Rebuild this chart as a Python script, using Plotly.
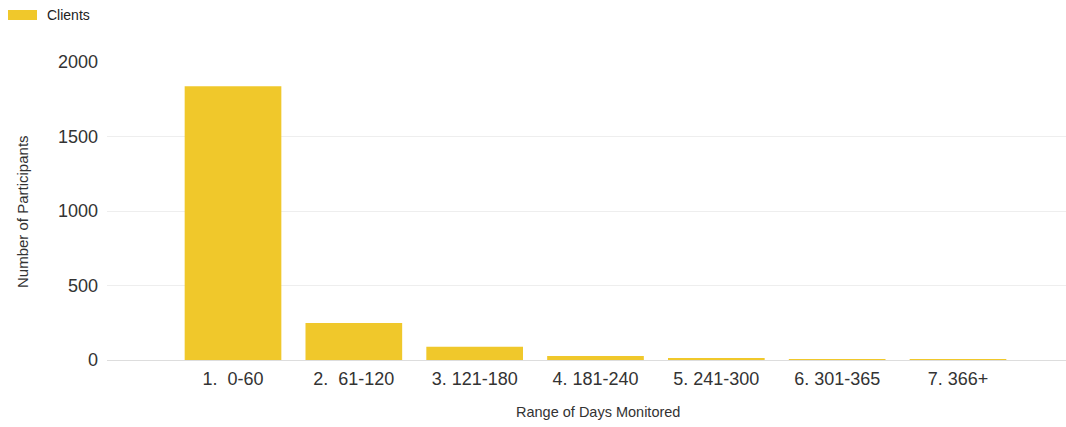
import plotly.graph_objects as go

categories = ["1.  0-60", "2.  61-120", "3. 121-180", "4. 181-240", "5. 241-300", "6. 301-365", "7. 366+"]
clients = [1838, 248, 89, 27, 13, 3, 1]
y_ticks = [0, 500, 1000, 1500, 2000]
series_name = "Clients"
x_title = "Range of Days Monitored"
y_title = "Number of Participants"

BAR = "#F0C82B"
W, H = 1066, 427
L, R, T, B = 107, 0, 62, 67
pw, ph = W - L - R, H - T - B

def px_x(p):
    return (p - L) / pw

def px_y(p):
    return (H - B - p) / ph

fig = go.Figure()
fig.add_trace(go.Bar(x=categories, y=clients, name=series_name, marker=dict(color=BAR, line=dict(width=0)),
                     width=0.8, showlegend=False))

step = 120.83
fig.update_layout(
    width=W, height=H,
    margin=dict(l=L, r=R, t=T, b=B),
    paper_bgcolor="white", plot_bgcolor="white",
    font=dict(family="Liberation Sans, Arial, sans-serif", color="#333333"),
    xaxis=dict(
        type="category", range=[-(233 - L) / step, 6 + (W - 958) / step],
        showgrid=False, zeroline=False, showline=False, ticks="",
        tickfont=dict(size=18, color="#333333"), ticklabelstandoff=6,
    ),
    yaxis=dict(
        range=[0, 2000], tickvals=y_ticks, showgrid=True, gridcolor="#eeeeee", gridwidth=1,
        zeroline=True, zerolinecolor="#dddddd", zerolinewidth=1, showline=False, ticks="",
        tickfont=dict(size=18, color="#333333"), ticklabelstandoff=8,
    ),
    shapes=[dict(type="rect", xref="paper", yref="paper",
                 x0=px_x(8), x1=px_x(37), y0=px_y(20), y1=px_y(10),
                 fillcolor=BAR, line=dict(width=0))],
    annotations=[
        dict(text=series_name, xref="paper", yref="paper", x=px_x(45), y=px_y(15),
             xanchor="left", yanchor="middle", showarrow=False, font=dict(size=14, color="#222222")),
        dict(text=x_title, xref="paper", yref="paper", x=px_x(598), y=px_y(412),
             xanchor="center", yanchor="middle", showarrow=False, font=dict(size=14.5, color="#333333")),
        dict(text=y_title, xref="paper", yref="paper", x=px_x(22), y=px_y(212),
             xanchor="center", yanchor="middle", textangle=-90, showarrow=False,
             font=dict(size=15, color="#333333")),
    ],
)

fig.write_html("out.html")
